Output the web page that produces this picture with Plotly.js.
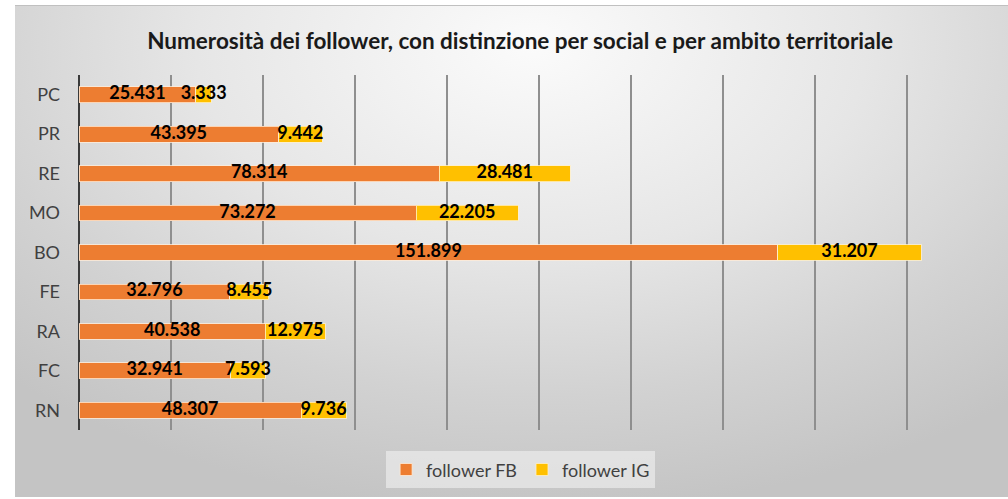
<!DOCTYPE html>
<html>
<head>
<meta charset="utf-8">
<script src="https://cdn.plot.ly/plotly-3.0.1.min.js"></script>
<style>
  html, body { margin: 0; padding: 0; background: #ffffff; }
  #wrap { position: relative; width: 1008px; height: 499px; overflow: hidden; }
  #bg { position: absolute; left: 15px; top: 5px; width: 993px; height: 492px;
        background: radial-gradient(ellipse 75% 95% at 52% 8%, #fbfbfb 0%, #e6e6e6 45%, #d2d2d2 75%, #c4c4c4 100%);
        border-top: 1px solid #c0c0c0; box-sizing: border-box; }
  #chart { position: absolute; left: 0; top: 0; width: 1008px; height: 499px; }
</style>
</head>
<body>
<div id="wrap"><div id="bg"></div><div id="chart"></div></div>
<script>
const categories = ["PC", "PR", "RE", "MO", "BO", "FE", "RA", "FC", "RN"];
const followerFB = [25431, 43395, 78314, 73272, 151899, 32796, 40538, 32941, 48307];
const followerIG = [3333, 9442, 28481, 22205, 31207, 8455, 12975, 7593, 9736];
const seriesNames = ["follower FB", "follower IG"];

function fmt(v) { return String(v).replace(/\B(?=(\d{3})+(?!\d))/g, "."); }

const labelFont = { family: "Lato, 'Noto Sans', sans-serif", size: 18, color: "#000000", weight: "bold" };

const traces = [
  {
    type: "bar", orientation: "h", name: seriesNames[0],
    y: categories, x: followerFB,
    marker: { color: "#ED7D31", line: { color: "rgba(255,235,215,0.8)", width: 1 } },
    hoverinfo: "skip"
  },
  {
    type: "bar", orientation: "h", name: seriesNames[1],
    y: categories, x: followerIG,
    marker: { color: "#FFC000", line: { color: "rgba(255,240,200,0.8)", width: 1 } },
    hoverinfo: "skip"
  },
  {
    type: "scatter", mode: "text", showlegend: false, hoverinfo: "skip",
    y: categories, x: followerFB.map(v => v / 2),
    text: followerFB.map(fmt), textposition: "middle center",
    textfont: labelFont, cliponaxis: false
  },
  {
    type: "scatter", mode: "text", showlegend: false, hoverinfo: "skip",
    y: categories, x: followerIG.map((v, i) => followerFB[i] + v / 2),
    text: followerIG.map(fmt), textposition: "middle center",
    textfont: labelFont, cliponaxis: false
  }
];

const layout = {
  width: 1008, height: 499,
  margin: { l: 79, r: 9, t: 75, b: 69 },
  paper_bgcolor: "rgba(0,0,0,0)",
  plot_bgcolor: "rgba(0,0,0,0)",
  barmode: "stack",
  bargap: 0.6,
  title: {
    text: "Numerosità dei follower, con distinzione per social e per ambito territoriale",
    font: { family: "Lato, 'Noto Sans', sans-serif", size: 22.5, color: "#1a1a1a", weight: "bold" },
    x: 0.516, xanchor: "center", y: 0.918, yanchor: "middle"
  },
  xaxis: {
    range: [0, 200000], dtick: 20000, tick0: 0,
    showticklabels: false, ticks: "",
    showgrid: true, gridcolor: "#8f8f8f", gridwidth: 1.5,
    zeroline: true, zerolinecolor: "#3a3a3a", zerolinewidth: 2,
    showline: false, fixedrange: true
  },
  yaxis: {
    type: "category", categoryorder: "array", categoryarray: categories,
    autorange: "reversed",
    showgrid: false, zeroline: false, showline: false, ticks: "",
    ticklabelstandoff: 18,
    tickfont: { family: "Lato, 'Noto Sans', sans-serif", size: 18, color: "#404040" },
    fixedrange: true
  },
  showlegend: true,
  legend: {
    orientation: "h", x: 0.48, xanchor: "center", y: -0.06, yanchor: "top",
    bgcolor: "rgba(242,242,242,0.6)",
    font: { family: "Lato, 'Noto Sans', sans-serif", size: 18, color: "#404040" },
    traceorder: "normal", itemwidth: 30
  }
};

Plotly.newPlot("chart", traces, layout, { displayModeBar: false, staticPlot: true });
</script>
</body>
</html>
